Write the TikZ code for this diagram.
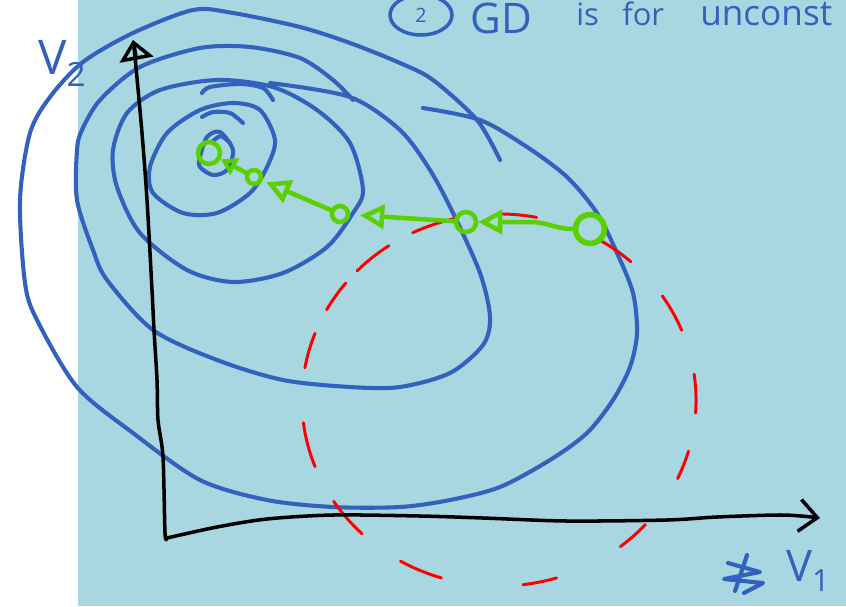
\documentclass[tikz,border=0pt]{standalone}
\usepackage{fontspec}
\setmainfont{Open Sans}
\usetikzlibrary{arrows.meta,shapes.geometric}
\definecolor{bgblue}{RGB}{168,214,225}
\definecolor{inkblue}{RGB}{50,98,190}
\definecolor{inkgreen}{RGB}{90,208,0}
\begin{document}
\begin{tikzpicture}[x=0.025cm, y=-0.025cm,
  lvl/.style={inkblue, line width=2.9pt, line cap=round, line join=round},
  ink/.style={text=inkblue, inner sep=0pt},
  gdpt/.style={circle, draw=inkgreen, line width=3.2pt, inner sep=0pt},
  gdline/.style={inkgreen, line width=3.2pt, line cap=round, line join=round,
    -{Triangle[open, length=0.6cm, width=0.6cm]}},
  bound/.style={red, line width=2.1pt, line cap=round},
  axisline/.style={black, line width=2.5pt, line cap=round, line join=round}]
  \useasboundingbox (0,0) rectangle (846,606);
  \clip (0,0) rectangle (846,606);
  \fill[bgblue] (78,0) rectangle (846,606);
  % level sets
  \draw[lvl] plot[smooth] coordinates {(423,108) (480,120) (527,147) (567,177) (597,213)
    (617,253) (633,293) (637,333) (630,367) (613,400) (587,433) (550,460) (500,487)
    (450,500) (400,507) (333,507) (267,500) (200,480) (133,433) (77,387) (37,320)
    (25,283) (20,200) (30,133) (50,97) (83,62) (133,33) (193,10) (233,13) (300,27)
    (350,43) (400,63) (433,80) (477,120) (500,160)};
  \draw[lvl] plot[smooth] coordinates {(270,83) (350,97) (400,130) (430,170) (453,213)
    (480,273) (490,317) (483,345) (450,373) (400,387) (350,387) (283,380) (217,360)
    (153,330) (107,280) (93,250) (77,200) (77,150) (82,130) (100,100) (140,67) (200,48)
    (250,47) (300,58) (333,80) (353,100)};
  \draw[lvl] plot[smooth cycle] coordinates {(363,190) (350,143) (317,110) (273,87)
    (217,80) (160,90) (127,113) (113,150) (117,187) (140,233) (187,270) (233,282)
    (283,273) (327,247) (353,213)};
  \draw[lvl] plot[smooth cycle] coordinates {(275,140) (260,110) (233,103) (200,110)
    (167,133) (150,167) (153,193) (183,213) (217,213) (250,193) (267,167)};
  \draw[lvl] plot[smooth cycle] coordinates {(200,157) (207,137) (220,132) (233,150)
    (227,170) (213,175) (200,167)};
  \draw[lvl] plot[smooth] coordinates {(202,93) (210,87) (240,84) (263,88) (273,100)};
  \draw[lvl] plot[smooth] coordinates {(202,117) (213,112) (230,113) (243,123)};
  \draw[lvl] plot[smooth] coordinates {(213,141) (221,136) (230,143)};
  % constraint set
  \coordinate (ctr) at (499,400);
  \foreach \a/\b in {22/34, 48/59, 79/89, 102/116, 124/136, 141/151, 159/170, 187/201,
      213/226, 240/253, 277/287, 308/318, 335/344, 356/368}
    \draw[bound] (ctr) ++(\a:4.925cm and 4.65cm)
      arc[start angle=\a, end angle=\b, x radius=4.925cm, y radius=4.65cm];
  % axes
  \coordinate (O) at (167,538);
  \draw[axisline, -{Triangle[open, length=0.5cm, width=0.85cm]}] plot[smooth] coordinates
    {(O) (165,533) (163,457) (158,420) (157,380) (154,330) (152,290) (147,200)
    (142,133) (135,57) (133,40)};
  \draw[axisline, -{Straight Barb[length=0.45cm, width=0.8cm]}] plot[smooth] coordinates
    {(O) (217,527) (267,519) (333,515) (420,516) (483,518) (567,521) (667,520)
    (717,517) (783,515) (820,518)};
  % gradient steps
  \node[gdpt, line width=4pt, minimum size=0.72cm] (x0) at (590,229) {};
  \node[gdpt, minimum size=0.5cm] (x1) at (466,222) {};
  \node[gdpt, minimum size=0.4cm] (x2) at (340,214) {};
  \node[gdpt, minimum size=0.35cm] (x3) at (254,177) {};
  \node[gdpt, minimum size=0.55cm] (x4) at (209,153) {};
  \draw[gdline] (x0.west) to[out=180, in=0] (530,222) -- (x1.east);
  \draw[gdline, shorten >=0.25cm] (x1) -- (x2);
  \draw[gdline, shorten >=0.1cm] (x2) -- (x3);
  \draw[gdline, -{Triangle[open, length=0.4cm, width=0.45cm]}] (x3) -- (x4);
  % labels
  \node[ink, anchor=north west, font=\fontsize{34}{38}\selectfont] (vtwo) at (38,40)
    {V\textsubscript{2}};
  \node[ink, anchor=north west, font=\fontsize{31}{34}\selectfont] (vone) at (786,550)
    {V\textsubscript{1}};
  \draw[lvl] (747,555) -- (735,591);
  \draw[lvl] (728,563) -- (760,572) -- (724,579) -- (763,583) -- (744,593);
  \node[ellipse, draw=inkblue, line width=2.5pt, minimum width=1.55cm, minimum height=1.0cm,
    inner sep=0pt, text=inkblue, font=\fontsize{14}{16}\selectfont] (circ2) at (421,15) {2};
  \node[ink, anchor=base west, font=\fontsize{30}{34}\selectfont] (gdtxt) at (470,33) {GD};
  \node[ink, anchor=base west, font=\fontsize{22}{26}\selectfont] (istxt) at (576,25) {is};
  \node[ink, anchor=base west, font=\fontsize{22}{26}\selectfont] (fortxt) at (622,25) {for};
  \node[ink, anchor=base west, font=\fontsize{25}{28}\selectfont] (unctxt) at (700,25) {unconst};
\end{tikzpicture}
\end{document}
